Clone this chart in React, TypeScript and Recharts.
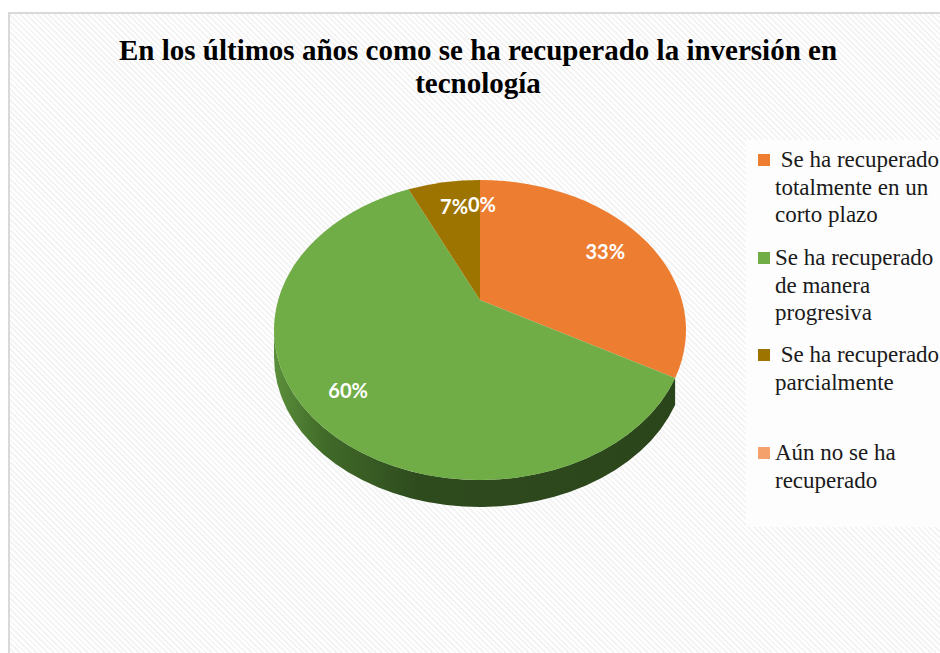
import { PieChart, Pie, Cell } from "recharts";

const TITLE = "En los últimos años como se ha recuperado la inversión en\ntecnología";
const categories = [
  " Se ha recuperado\ntotalmente en un\ncorto plazo",
  "Se ha recuperado\nde manera\nprogresiva",
  " Se ha recuperado\nparcialmente",
  "Aún no se ha\nrecuperado",
];
const percents = [33, 60, 7, 0];
const colors = ["#ed7d31", "#70ad47", "#9e7400", "#f4a16b"];
const wallColors = ["none", "url(#wallGreen)", "#6b4f00", "none"];

const data = categories.map((name, i) => ({ name, value: percents[i] }));

// pseudo-3D geometry
const K = 0.728; // ry / rx
const OFF = 30; // apex sits above ellipse centre (perspective)
const DEPTH = 27;

function rayPoint(cx: number, cy: number, r: number, angle: number) {
  const a = (angle * Math.PI) / 180;
  const ry = r * K;
  const dx = Math.cos(a);
  const dy = -Math.sin(a) * K;
  const A = (dx / r) ** 2 + (dy / ry) ** 2;
  const B = (-2 * dy * OFF) / (ry * ry);
  const C = (OFF / ry) ** 2 - 1;
  const t = (-B + Math.sqrt(B * B - 4 * A * C)) / (2 * A);
  return { x: cx + dx * t, y: cy - OFF + dy * t };
}

function paramAngle(cx: number, cy: number, r: number, p: { x: number; y: number }) {
  return Math.atan2((p.y - cy) / (r * K), (p.x - cx) / r);
}

function TopSector(props: any) {
  const { cx, cy, outerRadius: r, startAngle, endAngle, fill } = props;
  if (Math.abs(startAngle - endAngle) < 0.01) return <g />;
  const p1 = rayPoint(cx, cy, r, startAngle);
  const p2 = rayPoint(cx, cy, r, endAngle);
  const f1 = paramAngle(cx, cy, r, p1);
  let f2 = paramAngle(cx, cy, r, p2);
  while (f2 < f1) f2 += Math.PI * 2;
  const large = f2 - f1 > Math.PI ? 1 : 0;
  const d = `M${cx},${cy - OFF} L${p1.x},${p1.y} A${r},${r * K} 0 ${large} 1 ${p2.x},${p2.y} Z`;
  return <path d={d} fill={fill} stroke="none" />;
}

function WallSector(props: any) {
  const { cx, cy, outerRadius: r, startAngle, endAngle, index } = props;
  if (Math.abs(startAngle - endAngle) < 0.01) return <g />;
  const ry = r * K;
  const p1 = rayPoint(cx, cy, r, startAngle);
  const p2 = rayPoint(cx, cy, r, endAngle);
  const f1 = paramAngle(cx, cy, r, p1);
  let f2 = paramAngle(cx, cy, r, p2);
  while (f2 < f1) f2 += Math.PI * 2;
  const pieces: string[] = [];
  for (const base of [-Math.PI * 2, 0, Math.PI * 2]) {
    const a = Math.max(f1, base);
    const b = Math.min(f2, base + Math.PI);
    if (b - a > 0.001) {
      const ax = cx + r * Math.cos(a), ay = cy + ry * Math.sin(a);
      const bx = cx + r * Math.cos(b), by = cy + ry * Math.sin(b);
      pieces.push(
        `M${ax},${ay} A${r},${ry} 0 0 1 ${bx},${by} L${bx},${by + DEPTH} A${r},${ry} 0 0 0 ${ax},${ay + DEPTH} Z`
      );
    }
  }
  if (!pieces.length) return <g />;
  return <path d={pieces.join(" ")} fill={wallColors[index]} stroke="none" />;
}

function renderLabel(props: any) {
  const { cx, cy, outerRadius, midAngle, index } = props;
  const p = rayPoint(cx, cy, outerRadius, midAngle);
  const f = index === 1 ? 0.78 : 0.8;
  const x = cx + (p.x - cx) * f + (index === 2 ? 3 : index === 3 ? 2 : 0);
  const y = cy - OFF + (p.y - cy + OFF) * f + (index === 0 ? 5 : 0);
  return (
    <text
      x={x}
      y={y}
      fill="#ffffff"
      textAnchor="middle"
      dominantBaseline="central"
      style={{ fontFamily: "Lato, 'Open Sans', sans-serif", fontWeight: 700, fontSize: 20 }}
    >
      {`${percents[index]}%`}
    </text>
  );
}

function LegendBox() {
  const tops = [6, 104, 201, 299];
  return (
    <div
      style={{
        position: "absolute",
        left: 736,
        top: 126,
        width: 200,
        height: 387,
        background: "#fdfdfd",
      }}
    >
      {data.map((d, i) => (
        <div key={i} style={{ position: "absolute", left: 0, top: tops[i], display: "flex" }}>
          <div
            style={{
              width: 12,
              height: 12,
              background: colors[i],
              marginLeft: 12,
              marginTop: 8,
              marginRight: 5,
              flex: "none",
            }}
          />
          <div
            style={{
              fontFamily: "'Liberation Serif', 'Times New Roman', serif",
              fontSize: 23,
              lineHeight: "27.5px",
              color: "#1a1a1a",
              whiteSpace: "pre",
            }}
          >
            {d.name}
          </div>
        </div>
      ))}
    </div>
  );
}

export default function App() {
  return (
    <div
      style={{
        position: "fixed",
        left: 8,
        top: 12,
        width: 930,
        height: 639,
        overflow: "hidden",
        borderTop: "2px solid #d9d9d9",
        borderLeft: "2px solid #d9d9d9",
        background:
          "repeating-linear-gradient(45deg, #ffffff 0px, #ffffff 2px, #f4f4f4 2px, #f4f4f4 4px)",
      }}
    >
      <div
        style={{
          position: "absolute",
          left: 0,
          top: 20,
          width: 936,
          textAlign: "center",
          whiteSpace: "pre-line",
          fontFamily: "'Liberation Serif', 'Times New Roman', serif",
          fontWeight: 700,
          fontSize: 29,
          lineHeight: "33px",
          color: "#000",
        }}
      >
        {TITLE}
      </div>
      <LegendBox />
      <div style={{ position: "absolute", left: 0, top: 0 }}>
        <PieChart width={930} height={637} margin={{ top: 0, right: 0, bottom: 0, left: 0 }}>
          <defs>
            <linearGradient id="wallGreen" gradientUnits="userSpaceOnUse" x1="264" y1="0" x2="676" y2="0">
              <stop offset="0%" stopColor="#5b8f3b" />
              <stop offset="12%" stopColor="#416b29" />
              <stop offset="35%" stopColor="#2e4b1e" />
              <stop offset="100%" stopColor="#2b451b" />
            </linearGradient>
          </defs>
          <Pie
            data={data}
            dataKey="value"
            nameKey="name"
            cx={470}
            cy={316}
            outerRadius={206}
            startAngle={90}
            endAngle={-270}
            stroke="none"
            isAnimationActive={false}
            shape={WallSector}
            legendType="none"
          >
            {data.map((_, i) => (
              <Cell key={i} fill={colors[i]} />
            ))}
          </Pie>
          <Pie
            data={data}
            dataKey="value"
            nameKey="name"
            cx={470}
            cy={316}
            outerRadius={206}
            startAngle={90}
            endAngle={-270}
            stroke="none"
            isAnimationActive={false}
            shape={TopSector}
            label={renderLabel}
            labelLine={false}
          >
            {data.map((_, i) => (
              <Cell key={i} fill={colors[i]} />
            ))}
          </Pie>
        </PieChart>
      </div>
    </div>
  );
}
